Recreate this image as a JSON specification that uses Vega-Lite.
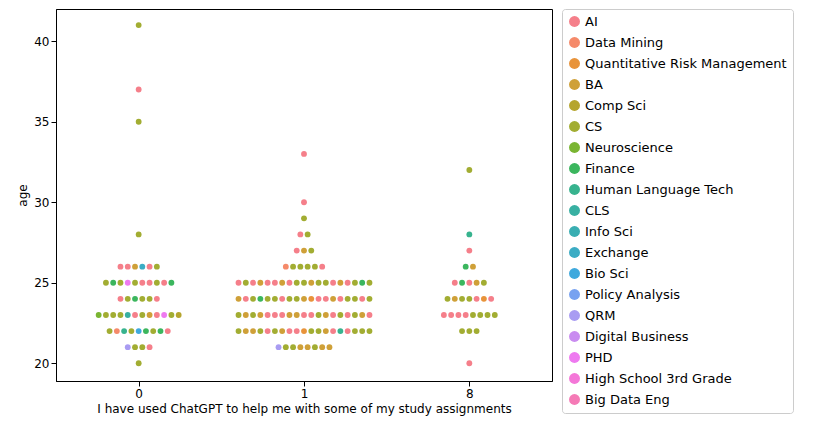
{
  "$schema": "https://vega.github.io/schema/vega-lite/v6.json",
  "width": 496,
  "height": 372,
  "padding": {"left": 16, "top": 8, "right": 5, "bottom": 5},
  "config": {
    "font": "DejaVu Sans",
    "view": {"stroke": "#000", "strokeWidth": 1},
    "axis": {"grid": false, "labelFontSize": 12, "titleFontSize": 12, "titleFontWeight": "normal", "labelColor": "#000", "titleColor": "#000", "domainColor": "#000", "tickColor": "#000", "labelFont": "DejaVu Sans", "titleFont": "DejaVu Sans"}
  },
  "datasets": {
    "raw": [
      {"g": "0", "age": 41, "major": "CS"}, {"g": "0", "age": 37, "major": "AI"}, {"g": "0", "age": 35, "major": "CS"}, {"g": "0", "age": 28, "major": "CS"},
      {"g": "0", "age": 26, "major": "AI"}, {"g": "0", "age": 26, "major": "AI"}, {"g": "0", "age": 26, "major": "BA"}, {"g": "0", "age": 26, "major": "Exchange"}, {"g": "0", "age": 26, "major": "AI"}, {"g": "0", "age": 26, "major": "CS"},
      {"g": "0", "age": 25, "major": "CS"}, {"g": "0", "age": 25, "major": "Finance"}, {"g": "0", "age": 25, "major": "CS"}, {"g": "0", "age": 25, "major": "PHD"}, {"g": "0", "age": 25, "major": "CS"}, {"g": "0", "age": 25, "major": "AI"}, {"g": "0", "age": 25, "major": "AI"}, {"g": "0", "age": 25, "major": "CS"}, {"g": "0", "age": 25, "major": "AI"}, {"g": "0", "age": 25, "major": "Finance"},
      {"g": "0", "age": 24, "major": "AI"}, {"g": "0", "age": 24, "major": "CS"}, {"g": "0", "age": 24, "major": "Finance"}, {"g": "0", "age": 24, "major": "CS"}, {"g": "0", "age": 24, "major": "CS"}, {"g": "0", "age": 24, "major": "AI"},
      {"g": "0", "age": 23, "major": "Neuroscience"}, {"g": "0", "age": 23, "major": "CS"}, {"g": "0", "age": 23, "major": "CS"}, {"g": "0", "age": 23, "major": "CS"}, {"g": "0", "age": 23, "major": "CLS"}, {"g": "0", "age": 23, "major": "AI"}, {"g": "0", "age": 23, "major": "CS"}, {"g": "0", "age": 23, "major": "BA"}, {"g": "0", "age": 23, "major": "AI"}, {"g": "0", "age": 23, "major": "PHD"}, {"g": "0", "age": 23, "major": "CS"}, {"g": "0", "age": 23, "major": "Comp Sci"},
      {"g": "0", "age": 22, "major": "CS"}, {"g": "0", "age": 22, "major": "Data Mining"}, {"g": "0", "age": 22, "major": "Human Language Tech"}, {"g": "0", "age": 22, "major": "CS"}, {"g": "0", "age": 22, "major": "Bio Sci"}, {"g": "0", "age": 22, "major": "Finance"}, {"g": "0", "age": 22, "major": "CS"}, {"g": "0", "age": 22, "major": "Finance"}, {"g": "0", "age": 22, "major": "AI"},
      {"g": "0", "age": 21, "major": "QRM"}, {"g": "0", "age": 21, "major": "CS"}, {"g": "0", "age": 21, "major": "CS"}, {"g": "0", "age": 21, "major": "AI"},
      {"g": "0", "age": 20, "major": "CS"},
      {"g": "1", "age": 33, "major": "AI"}, {"g": "1", "age": 30, "major": "AI"}, {"g": "1", "age": 29, "major": "CS"},
      {"g": "1", "age": 28, "major": "AI"}, {"g": "1", "age": 28, "major": "CS"},
      {"g": "1", "age": 27, "major": "AI"}, {"g": "1", "age": 27, "major": "BA"}, {"g": "1", "age": 27, "major": "CS"},
      {"g": "1", "age": 26, "major": "Data Mining"}, {"g": "1", "age": 26, "major": "CS"}, {"g": "1", "age": 26, "major": "CS"}, {"g": "1", "age": 26, "major": "CS"}, {"g": "1", "age": 26, "major": "CS"}, {"g": "1", "age": 26, "major": "AI"},
      {"g": "1", "age": 25, "major": "AI"}, {"g": "1", "age": 25, "major": "CS"}, {"g": "1", "age": 25, "major": "AI"}, {"g": "1", "age": 25, "major": "BA"}, {"g": "1", "age": 25, "major": "AI"}, {"g": "1", "age": 25, "major": "AI"}, {"g": "1", "age": 25, "major": "BA"}, {"g": "1", "age": 25, "major": "AI"}, {"g": "1", "age": 25, "major": "CS"}, {"g": "1", "age": 25, "major": "CS"}, {"g": "1", "age": 25, "major": "BA"}, {"g": "1", "age": 25, "major": "CS"}, {"g": "1", "age": 25, "major": "CS"}, {"g": "1", "age": 25, "major": "AI"}, {"g": "1", "age": 25, "major": "BA"}, {"g": "1", "age": 25, "major": "AI"}, {"g": "1", "age": 25, "major": "CS"}, {"g": "1", "age": 25, "major": "Finance"}, {"g": "1", "age": 25, "major": "CS"},
      {"g": "1", "age": 24, "major": "BA"}, {"g": "1", "age": 24, "major": "AI"}, {"g": "1", "age": 24, "major": "CS"}, {"g": "1", "age": 24, "major": "Finance"}, {"g": "1", "age": 24, "major": "CS"}, {"g": "1", "age": 24, "major": "CS"}, {"g": "1", "age": 24, "major": "AI"}, {"g": "1", "age": 24, "major": "CS"}, {"g": "1", "age": 24, "major": "CS"}, {"g": "1", "age": 24, "major": "BA"}, {"g": "1", "age": 24, "major": "Quantitative Risk Management"}, {"g": "1", "age": 24, "major": "AI"}, {"g": "1", "age": 24, "major": "AI"}, {"g": "1", "age": 24, "major": "BA"}, {"g": "1", "age": 24, "major": "AI"}, {"g": "1", "age": 24, "major": "CS"}, {"g": "1", "age": 24, "major": "CS"}, {"g": "1", "age": 24, "major": "AI"}, {"g": "1", "age": 24, "major": "CS"},
      {"g": "1", "age": 23, "major": "CS"}, {"g": "1", "age": 23, "major": "BA"}, {"g": "1", "age": 23, "major": "CS"}, {"g": "1", "age": 23, "major": "BA"}, {"g": "1", "age": 23, "major": "AI"}, {"g": "1", "age": 23, "major": "AI"}, {"g": "1", "age": 23, "major": "AI"}, {"g": "1", "age": 23, "major": "BA"}, {"g": "1", "age": 23, "major": "BA"}, {"g": "1", "age": 23, "major": "AI"}, {"g": "1", "age": 23, "major": "AI"}, {"g": "1", "age": 23, "major": "CS"}, {"g": "1", "age": 23, "major": "BA"}, {"g": "1", "age": 23, "major": "AI"}, {"g": "1", "age": 23, "major": "CS"}, {"g": "1", "age": 23, "major": "AI"}, {"g": "1", "age": 23, "major": "CS"}, {"g": "1", "age": 23, "major": "BA"}, {"g": "1", "age": 23, "major": "AI"},
      {"g": "1", "age": 22, "major": "CS"}, {"g": "1", "age": 22, "major": "BA"}, {"g": "1", "age": 22, "major": "BA"}, {"g": "1", "age": 22, "major": "CS"}, {"g": "1", "age": 22, "major": "AI"}, {"g": "1", "age": 22, "major": "CS"}, {"g": "1", "age": 22, "major": "BA"}, {"g": "1", "age": 22, "major": "AI"}, {"g": "1", "age": 22, "major": "AI"}, {"g": "1", "age": 22, "major": "Quantitative Risk Management"}, {"g": "1", "age": 22, "major": "CS"}, {"g": "1", "age": 22, "major": "CS"}, {"g": "1", "age": 22, "major": "BA"}, {"g": "1", "age": 22, "major": "AI"}, {"g": "1", "age": 22, "major": "Human Language Tech"}, {"g": "1", "age": 22, "major": "AI"}, {"g": "1", "age": 22, "major": "CS"}, {"g": "1", "age": 22, "major": "CS"}, {"g": "1", "age": 22, "major": "CS"},
      {"g": "1", "age": 21, "major": "QRM"}, {"g": "1", "age": 21, "major": "CS"}, {"g": "1", "age": 21, "major": "CS"}, {"g": "1", "age": 21, "major": "BA"}, {"g": "1", "age": 21, "major": "BA"}, {"g": "1", "age": 21, "major": "CS"}, {"g": "1", "age": 21, "major": "BA"}, {"g": "1", "age": 21, "major": "BA"},
      {"g": "8", "age": 32, "major": "CS"}, {"g": "8", "age": 28, "major": "Human Language Tech"}, {"g": "8", "age": 27, "major": "AI"},
      {"g": "8", "age": 26, "major": "Finance"}, {"g": "8", "age": 26, "major": "BA"},
      {"g": "8", "age": 25, "major": "AI"}, {"g": "8", "age": 25, "major": "Finance"}, {"g": "8", "age": 25, "major": "AI"}, {"g": "8", "age": 25, "major": "BA"}, {"g": "8", "age": 25, "major": "CS"},
      {"g": "8", "age": 24, "major": "CS"}, {"g": "8", "age": 24, "major": "BA"}, {"g": "8", "age": 24, "major": "CS"}, {"g": "8", "age": 24, "major": "CS"}, {"g": "8", "age": 24, "major": "AI"}, {"g": "8", "age": 24, "major": "Quantitative Risk Management"}, {"g": "8", "age": 24, "major": "AI"},
      {"g": "8", "age": 23, "major": "AI"}, {"g": "8", "age": 23, "major": "AI"}, {"g": "8", "age": 23, "major": "AI"}, {"g": "8", "age": 23, "major": "AI"}, {"g": "8", "age": 23, "major": "CS"}, {"g": "8", "age": 23, "major": "CS"}, {"g": "8", "age": 23, "major": "CS"}, {"g": "8", "age": 23, "major": "CS"},
      {"g": "8", "age": 22, "major": "CS"}, {"g": "8", "age": 22, "major": "CS"}, {"g": "8", "age": 22, "major": "CS"},
      {"g": "8", "age": 20, "major": "AI"}
    ]
  },
  "data": {"name": "raw"},
  "transform": [
    {"window": [{"op": "row_number", "as": "rank"}, {"op": "count", "as": "n"}], "groupby": ["g", "age"], "frame": [null, null]},
    {"calculate": "(datum.g == '8' ? 2 : toNumber(datum.g)) + (datum.rank - (datum.n + 1) / 2) * 0.044", "as": "xpos"}
  ],
  "mark": {"type": "circle", "size": 34, "opacity": 1},
  "encoding": {
    "x": {"field": "xpos", "type": "quantitative", "scale": {"domain": [-0.5, 2.5], "nice": false, "zero": false},
      "axis": {"values": [0, 1, 2], "labelExpr": "datum.value == 2 ? '8' : datum.label", "title": "I have used ChatGPT to help me with some of my study assignments"}},
    "y": {"field": "age", "type": "quantitative", "scale": {"domain": [18.9, 42], "nice": false, "zero": false},
      "axis": {"values": [20, 25, 30, 35, 40], "title": "age"}},
    "color": {"field": "major", "type": "nominal", "title": null,
      "scale": {
        "domain": ["AI", "Data Mining", "Quantitative Risk Management", "BA", "Comp Sci", "CS", "Neuroscience", "Finance", "Human Language Tech", "CLS", "Info Sci", "Exchange", "Bio Sci", "Policy Analysis", "QRM", "Digital Business", "PHD", "High School 3rd Grade", "Big Data Eng"],
        "range": ["#f57f8a", "#f58a6a", "#e8933a", "#cfa038", "#b5a52e", "#a2ad32", "#7ab532", "#3bb65e", "#37b38e", "#38b0a2", "#39aeb2", "#3bacc4", "#3fa9dd", "#78a2f0", "#a99cf2", "#c98cf0", "#ee7af0", "#f477d8", "#f57ab6"]
      },
      "legend": {"orient": "right", "labelFontSize": 13, "symbolSize": 120, "symbolType": "circle", "rowPadding": 7, "labelLimit": 300, "strokeColor": "#ccc", "padding": 6, "cornerRadius": 3, "offset": 10, "labelColor": "#000"}
    }
  }
}
